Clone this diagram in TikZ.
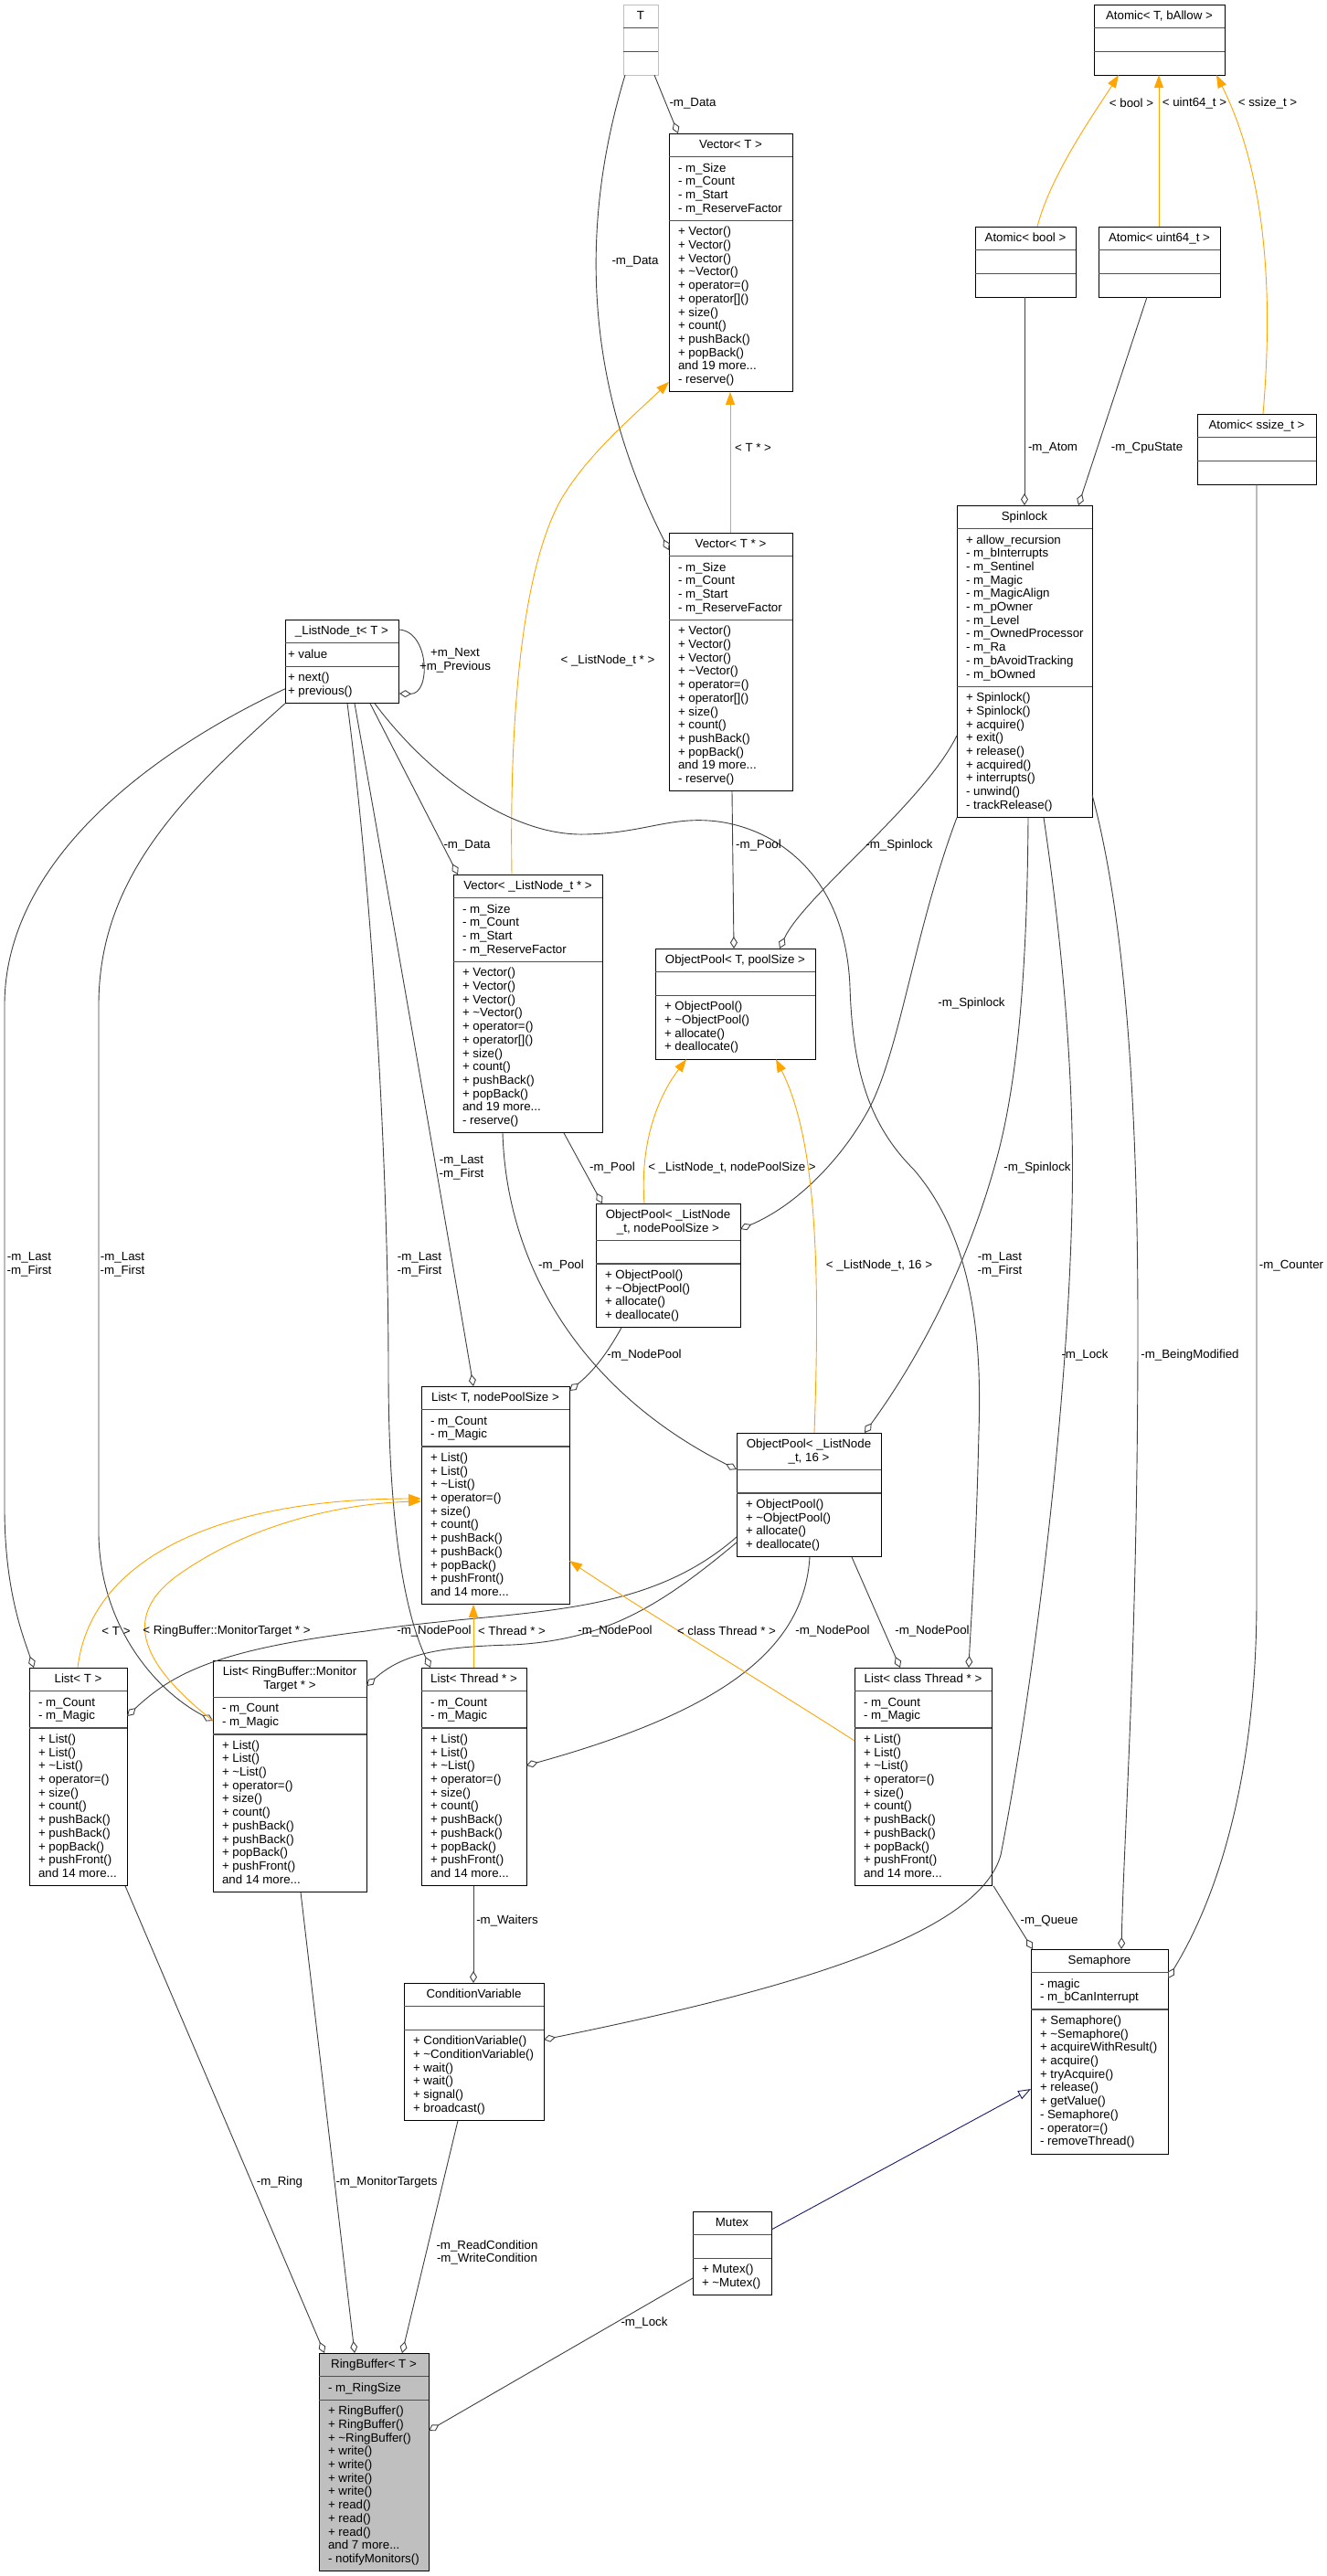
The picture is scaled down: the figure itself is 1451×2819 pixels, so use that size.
\documentclass[tikz,border=0pt]{standalone}
\usepackage{fontspec}
\setmainfont{Liberation Sans}
\usetikzlibrary{arrows.meta,calc}
\definecolor{edgec}{HTML}{404040}
\definecolor{tmplc}{HTML}{FFA500}
\definecolor{inhc}{HTML}{191970}
\definecolor{rbfill}{HTML}{BFBFBF}
\definecolor{tgrey}{HTML}{BFBFBF}
\definecolor{sepc}{HTML}{505050}
\newcommand\fnt{\fontsize{13.3}{14.7}\selectfont}
\newcommand\tld{\textasciitilde}
\newcommand\tdots{...}
\tikzset{
  frame/.style={draw=black, fill=white, line width=1pt, inner sep=0pt, outer sep=0pt, rectangle},
  sepline/.style={draw=sepc, line width=1.4pt},
  txt/.style={font=\fnt, inner sep=0pt, outer sep=0pt},
  agg/.style={draw=edgec, line width=0.9pt, -{Diamond[length=13pt, width=8pt, fill=white]}},
  tpl/.style={draw=tmplc, line width=0.9pt, -{Triangle[length=14pt, width=10pt]}},
  inhe/.style={draw=inhc, line width=0.9pt, -{Triangle[open, length=14pt, width=10pt, fill=white]}},
  elab/.style={font=\fnt, inner sep=0pt, align=center},
}
% #1 name, #2 x, #3 y, #4 w, #5 nh, #6 na, #7 nm, #8 frame options, #9 left pad
\newcommand\cls[9]{%
  \pgfmathsetmacro\hA{#5*14.7+11}%
  \pgfmathsetmacro\hB{max(#6,1)*14.7+11}%
  \pgfmathsetmacro\hC{max(#7,1)*14.7+11}%
  \pgfmathsetmacro\hT{\hA+\hB+\hC}%
  \node[frame, minimum width=#4, minimum height=\hT, anchor=north west, #8] (#1) at (#2,#3) {};
  \draw[sepline] (#2,#3+\hA) -- ++(#4,0);
  \draw[sepline] (#2,#3+\hA+\hB) -- ++(#4,0);
  \coordinate (#1-H) at (#2+#4/2, #3+16.3);
  \coordinate (#1-A) at (#2+#9, #3+\hA+16.3);
  \coordinate (#1-M) at (#2+#9, #3+\hA+\hB+16.3);
}
\newcommand\hdr[2]{\foreach \itm [count=\ix from 0] in {#2} {\node[txt, anchor=base] (#1-h\ix) at ($(#1-H)+(0,\ix*14.7)$) {\itm};}}
\newcommand\att[2]{\foreach \itm [count=\ix from 0] in {#2} {\node[txt, anchor=base west] (#1-a\ix) at ($(#1-A)+(0,\ix*14.7)$) {\itm};}}
\newcommand\mth[2]{\foreach \itm [count=\ix from 0] in {#2} {\node[txt, anchor=base west] (#1-m\ix) at ($(#1-M)+(0,\ix*14.7)$) {\itm};}}
\begin{document}
\begin{tikzpicture}[x=1pt,y=-1pt]
\fill[white] (0,0) rectangle (1451,2819);
\useasboundingbox (0,0) rectangle (1451,2819);

% ---------- classes ----------
\cls{Tc}{682}{5}{38}{1}{0}{0}{draw=tgrey}{10}
\hdr{Tc}{T}
\cls{atomT}{1197}{5}{143}{1}{0}{0}{}{10}
\hdr{atomT}{{Atomic< T, bAllow >}}
\cls{vecT}{732}{146}{135}{1}{4}{12}{}{10}
\hdr{vecT}{Vector< T >}
\att{vecT}{- m\_Size, - m\_Count, - m\_Start, - m\_ReserveFactor}
\mth{vecT}{+ Vector(), + Vector(), + Vector(), + \tld Vector(), + operator=(), + operator[](), + size(), + count(), + pushBack(), + popBack(), and 19 more\tdots, - reserve()}
\cls{atomB}{1067}{248}{110}{1}{0}{0}{}{10}
\hdr{atomB}{Atomic< bool >}
\cls{atomU}{1202}{248}{133}{1}{0}{0}{}{10}
\hdr{atomU}{Atomic< uint64\_t >}
\cls{atomS}{1310}{453}{130}{1}{0}{0}{}{10}
\hdr{atomS}{Atomic< ssize\_t >}
\cls{spin}{1047}{553}{148}{1}{11}{9}{}{10}
\hdr{spin}{Spinlock}
\att{spin}{+ allow\_recursion, - m\_bInterrupts, - m\_Sentinel, - m\_Magic, - m\_MagicAlign, - m\_pOwner, - m\_Level, - m\_OwnedProcessor, - m\_Ra, - m\_bAvoidTracking, - m\_bOwned}
\mth{spin}{+ Spinlock(), + Spinlock(), + acquire(), + exit(), + release(), + acquired(), + interrupts(), - unwind(), - trackRelease()}
\cls{vecTp}{732}{583}{135}{1}{4}{12}{}{10}
\hdr{vecTp}{Vector< T * >}
\att{vecTp}{- m\_Size, - m\_Count, - m\_Start, - m\_ReserveFactor}
\mth{vecTp}{+ Vector(), + Vector(), + Vector(), + \tld Vector(), + operator=(), + operator[](), + size(), + count(), + pushBack(), + popBack(), and 19 more\tdots, - reserve()}
\cls{lnode}{312}{678}{124}{1}{1}{2}{}{3}
\hdr{lnode}{\_ListNode\_t< T >}
\att{lnode}{+ value}
\mth{lnode}{+ next(), + previous()}
\cls{vecLN}{496}{957}{163}{1}{4}{12}{}{10}
\hdr{vecLN}{Vector< \_ListNode\_t * >}
\att{vecLN}{- m\_Size, - m\_Count, - m\_Start, - m\_ReserveFactor}
\mth{vecLN}{+ Vector(), + Vector(), + Vector(), + \tld Vector(), + operator=(), + operator[](), + size(), + count(), + pushBack(), + popBack(), and 19 more\tdots, - reserve()}
\cls{opT}{717}{1038}{175}{1}{0}{4}{}{10}
\hdr{opT}{{ObjectPool< T, poolSize >}}
\mth{opT}{+ ObjectPool(), + \tld ObjectPool(), + allocate(), + deallocate()}
\cls{opN}{652}{1317}{158}{2}{0}{4}{}{10}
\hdr{opN}{ObjectPool< \_ListNode, {\_t, nodePoolSize >}}
\mth{opN}{+ ObjectPool(), + \tld ObjectPool(), + allocate(), + deallocate()}
\cls{listTN}{461}{1517}{162}{1}{2}{11}{}{10}
\hdr{listTN}{{List< T, nodePoolSize >}}
\att{listTN}{- m\_Count, - m\_Magic}
\mth{listTN}{+ List(), + List(), + \tld List(), + operator=(), + size(), + count(), + pushBack(), + pushBack(), + popBack(), + pushFront(), and 14 more\tdots}
\cls{op16}{806}{1568}{158}{2}{0}{4}{}{10}
\hdr{op16}{ObjectPool< \_ListNode, {\_t, 16 >}}
\mth{op16}{+ ObjectPool(), + \tld ObjectPool(), + allocate(), + deallocate()}
\cls{listT}{32}{1825}{107}{1}{2}{11}{}{10}
\hdr{listT}{List< T >}
\att{listT}{- m\_Count, - m\_Magic}
\mth{listT}{+ List(), + List(), + \tld List(), + operator=(), + size(), + count(), + pushBack(), + pushBack(), + popBack(), + pushFront(), and 14 more\tdots}
\cls{listRB}{233}{1817}{168}{2}{2}{11}{}{10}
\hdr{listRB}{List< RingBuffer::Monitor, Target * >}
\att{listRB}{- m\_Count, - m\_Magic}
\mth{listRB}{+ List(), + List(), + \tld List(), + operator=(), + size(), + count(), + pushBack(), + pushBack(), + popBack(), + pushFront(), and 14 more\tdots}
\cls{listTh}{461}{1825}{115}{1}{2}{11}{}{10}
\hdr{listTh}{List< Thread * >}
\att{listTh}{- m\_Count, - m\_Magic}
\mth{listTh}{+ List(), + List(), + \tld List(), + operator=(), + size(), + count(), + pushBack(), + pushBack(), + popBack(), + pushFront(), and 14 more\tdots}
\cls{listCT}{935}{1825}{150}{1}{2}{11}{}{10}
\hdr{listCT}{List< class Thread * >}
\att{listCT}{- m\_Count, - m\_Magic}
\mth{listCT}{+ List(), + List(), + \tld List(), + operator=(), + size(), + count(), + pushBack(), + pushBack(), + popBack(), + pushFront(), and 14 more\tdots}
\cls{cv}{442}{2170}{153}{1}{0}{6}{}{10}
\hdr{cv}{ConditionVariable}
\mth{cv}{+ ConditionVariable(), + \tld ConditionVariable(), + wait(), + wait(), + signal(), + broadcast()}
\cls{sem}{1128}{2133}{150}{1}{2}{10}{}{10}
\hdr{sem}{Semaphore}
\att{sem}{- magic, - m\_bCanInterrupt}
\mth{sem}{+ Semaphore(), + \tld Semaphore(), + acquireWithResult(), + acquire(), + tryAcquire(), + release(), + getValue(), - Semaphore(), - operator=(), - removeThread()}
\cls{mutex}{758}{2420}{86}{1}{0}{2}{}{10}
\hdr{mutex}{Mutex}
\mth{mutex}{+ Mutex(), + \tld Mutex()}
\cls{rb}{349}{2575}{120}{1}{1}{12}{fill=rbfill}{10}
\hdr{rb}{RingBuffer< T >}
\att{rb}{- m\_RingSize}
\mth{rb}{+ RingBuffer(), + RingBuffer(), + \tld RingBuffer(), + write(), + write(), + write(), + write(), + read(), + read(), + read(), and 7 more\tdots, - notifyMonitors()}

% ---------- connectors ----------
\draw[agg] ($(Tc.south west)+(34,0)$) -- ($(vecT.north west)+(10,0)$);
\node[elab] (lb1) at (758,113) {-m\_Data};
\draw[agg] ($(Tc.south west)+(2,0)$) .. controls (630,260) and (645,430) .. ($(vecTp.north west)+(0,19)$);
\node[elab] (lb2) at (695,286) {-m\_Data};
\draw[tpl] ($(vecTp.north west)+(67,0)$) -- ($(vecT.south west)+(67,0)$);
\node[elab] (lb3) at (824,490) {< T * >};
\draw[tpl] ($(vecLN.north west)+(64,0)$) .. controls (557,760) and (575,620) .. (612,550) .. controls (640,500) and (690,458) .. ($(vecT.south west)+(0,-11)$);
\node[elab] (lb4) at (665,723) {< \_ListNode\_t * >};
\draw[tpl] ($(atomB.north west)+(68,0)$) .. controls (1150,190) and (1200,120) .. ($(atomT.south west)+(27,0)$);
\node[elab] (lb5) at (1238,113) {< bool >};
\draw[tpl] ($(atomU.north west)+(66,0)$) -- ($(atomT.south west)+(71,0)$);
\node[elab] (lb6) at (1307,113) {< uint64\_t >};
\draw[tpl] ($(atomS.north west)+(72,0)$) .. controls (1395,300) and (1380,180) .. ($(atomT.south west)+(134,0)$);
\node[elab] (lb7) at (1387,113) {< ssize\_t >};
\draw[agg] ($(atomB.south west)+(54,0)$) -- ($(spin.north west)+(74,0)$);
\node[elab] (lb8) at (1152,490) {-m\_Atom};
\draw[agg] ($(atomU.south west)+(53,0)$) -- ($(spin.north west)+(133,0)$);
\node[elab] (lb9) at (1255,490) {-m\_CpuState};
\draw[agg] ($(lnode.north east)+(0,11)$) .. controls (470,690) and (472,760) .. ($(lnode.north east)+(1,81)$);
\node[elab] (lb10) at (498,723) {+m\_Next\\+m\_Previous};
\draw[agg] ($(lnode.south west)+(0,-16)$) .. controls (150,830) and (5,950) .. (5,1100) -- (5,1650) .. controls (5,1740) and (25,1790) .. ($(listT.north west)+(5,0)$);
\node[elab] (lb11) at (32,1384) {-m\_Last\\-m\_First};
\draw[agg] (lnode.south west) .. controls (200,870) and (108,960) .. (108,1100) -- (108,1680) .. controls (110,1780) and (170,1850) .. ($(listRB.north west)+(0,66)$);
\node[elab] (lb12) at (134,1384) {-m\_Last\\-m\_First};
\draw[agg] ($(lnode.south west)+(68,0)$) .. controls (410,1000) and (425,1300) .. (425,1500) .. controls (425,1700) and (450,1780) .. ($(listTh.north west)+(10,0)$);
\node[elab] (lb13) at (459,1384) {-m\_Last\\-m\_First};
\draw[agg] ($(lnode.south west)+(76,0)$) .. controls (420,950) and (490,1350) .. ($(listTN.north west)+(57,0)$);
\node[elab] (lb14) at (505,1278) {-m\_Last\\-m\_First};
\draw[agg] ($(lnode.south west)+(93,0)$) -- ($(vecLN.north west)+(5,0)$);
\node[elab] (lb15) at (511,925) {-m\_Data};
\draw[agg] ($(lnode.south west)+(98,0)$) .. controls (470,850) and (560,915) .. (640,913) .. controls (700,912) and (730,895) .. (775,898) .. controls (840,902) and (925,950) .. (930,1080) .. controls (933,1170) and (950,1230) .. (1000,1280) .. controls (1060,1350) and (1075,1450) .. (1071,1567) .. controls (1068,1700) and (1062,1780) .. ($(listCT.north west)+(125,0)$);
\node[elab] (lb16) at (1094,1384) {-m\_Last\\-m\_First};
\draw[agg] ($(vecTp.south west)+(69,0)$) -- ($(opT.north west)+(86,0)$);
\node[elab] (lb17) at (830,925) {-m\_Pool};
\draw[agg] ($(spin.north west)+(0,252)$) .. controls (1010,880) and (880,980) .. ($(opT.north west)+(136,0)$);
\node[elab] (lb18) at (984,925) {-m\_Spinlock};
\draw[agg] ($(spin.south west)+(0,0)$) .. controls (1000,1020) and (985,1150) .. (950,1215) .. controls (920,1270) and (870,1320) .. ($(opN.north east)+(0,28)$);
\node[elab] (lb19) at (1063,1098) {-m\_Spinlock};
\draw[agg] ($(spin.south west)+(78,0)$) .. controls (1124,1050) and (1115,1180) .. (1090,1270) .. controls (1060,1380) and (1010,1480) .. ($(op16.north west)+(140,0)$);
\node[elab] (lb20) at (1135,1278) {-m\_Spinlock};
\draw[agg] ($(spin.south east)+(0,-25)$) .. controls (1230,1000) and (1245,1200) .. (1245,1450) .. controls (1245,1800) and (1230,2000) .. ($(sem.north west)+(99,0)$);
\node[elab] (lb21) at (1302,1483) {-m\_BeingModified};
\draw[agg] ($(spin.south west)+(95,0)$) .. controls (1165,1050) and (1176,1200) .. (1173,1320) .. controls (1168,1550) and (1130,1850) .. (1095,2030) .. controls (1070,2120) and (850,2180) .. ($(cv.north east)+(0,62)$);
\node[elab] (lb22) at (1187,1483) {-m\_Lock};
\draw[agg] ($(vecLN.south west)+(121,0)$) -- ($(opN.north west)+(7,0)$);
\node[elab] (lb23) at (670,1278) {-m\_Pool};
\draw[agg] ($(vecLN.south west)+(54,0)$) .. controls (555,1400) and (650,1530) .. ($(op16.north west)+(0,40)$);
\node[elab] (lb24) at (614,1385) {-m\_Pool};
\draw[tpl] ($(opN.north west)+(53,0)$) .. controls (700,1250) and (720,1200) .. ($(opT.south west)+(34,0)$);
\node[elab] (lb25) at (801,1278) {< \_ListNode\_t, nodePoolSize >};
\draw[tpl] ($(op16.north west)+(85,0)$) .. controls (897,1400) and (895,1250) .. ($(opT.south west)+(132,0)$);
\node[elab] (lb26) at (962,1385) {< \_ListNode\_t, 16 >};
\draw[agg] ($(opN.south west)+(28,0)$) .. controls (665,1480) and (650,1500) .. ($(listTN.north east)+(0,5)$);
\node[elab] (lb27) at (705,1483) {-m\_NodePool};
\draw[agg] ($(op16.south west)+(0,-22)$) .. controls (700,1775) and (560,1760) .. (400,1785) .. controls (240,1805) and (190,1830) .. ($(listT.north east)+(0,53)$);
\node[elab] (lb28) at (475,1785) {-m\_NodePool};
\draw[agg] ($(op16.south west)+(0,-16)$) .. controls (720,1760) and (660,1795) .. (560,1800) .. controls (480,1802) and (440,1810) .. ($(listRB.north east)+(0,28)$);
\node[elab] (lb29) at (673,1785) {-m\_NodePool};
\draw[agg] ($(op16.south west)+(80,0)$) .. controls (880,1800) and (800,1870) .. ($(listTh.north east)+(0,107)$);
\node[elab] (lb30) at (911,1785) {-m\_NodePool};
\draw[agg] ($(op16.south west)+(126,0)$) -- ($(listCT.north west)+(50,0)$);
\node[elab] (lb31) at (1020,1785) {-m\_NodePool};
\draw[tpl] ($(listT.north west)+(53,0)$) .. controls (100,1700) and (250,1640) .. ($(listTN.north west)+(0,123)$);
\node[elab] (lb32) at (127,1785) {< T >};
\draw[tpl] ($(listRB.north west)+(0,66)$) .. controls (140,1810) and (140,1760) .. (200,1720) .. controls (280,1665) and (380,1645) .. ($(listTN.north west)+(0,126)$);
\node[elab] (lb33) at (248,1785) {< RingBuffer::MonitorTarget * >};
\draw[tpl] ($(listTh.north west)+(57,0)$) -- ($(listTN.south west)+(57,0)$);
\node[elab] (lb34) at (560,1785) {< Thread * >};
\draw[tpl] ($(listCT.north west)+(0,80)$) .. controls (850,1850) and (700,1760) .. ($(listTN.north east)+(0,191)$);
\node[elab] (lb35) at (795,1785) {< class Thread * >};
\draw[agg] ($(listTh.south west)+(57,0)$) -- ($(cv.north west)+(76,0)$);
\node[elab] (lb36) at (555,2102) {-m\_Waiters};
\draw[agg] ($(listCT.south east)+(2,0)$) -- ($(sem.north west)+(2,0)$);
\node[elab] (lb37) at (1148,2102) {-m\_Queue};
\draw[agg] ($(atomS.south west)+(65,0)$) -- (1375,1750) .. controls (1375,1950) and (1330,2080) .. ($(sem.north east)+(0,32)$);
\node[elab] (lb38) at (1413,1385) {-m\_Counter};
\draw[inhe] ($(mutex.north east)+(0,20)$) -- ($(sem.north west)+(0,153)$);
\draw[agg] ($(listT.south west)+(105,0)$) -- ($(rb.north west)+(6,0)$);
\node[elab] (lb40) at (306,2388) {-m\_Ring};
\draw[agg] ($(listRB.south west)+(96,0)$) -- ($(rb.north west)+(39,0)$);
\node[elab] (lb41) at (423,2388) {-m\_MonitorTargets};
\draw[agg] ($(cv.south west)+(59,0)$) -- ($(rb.north west)+(91,0)$);
\node[elab] (lb42) at (533,2465) {-m\_ReadCondition\\-m\_WriteCondition};
\draw[agg] ($(mutex.north west)+(0,73)$) -- ($(rb.north east)+(0,85)$);
\node[elab] (lb43) at (705,2542) {-m\_Lock};
\end{tikzpicture}
\end{document}
